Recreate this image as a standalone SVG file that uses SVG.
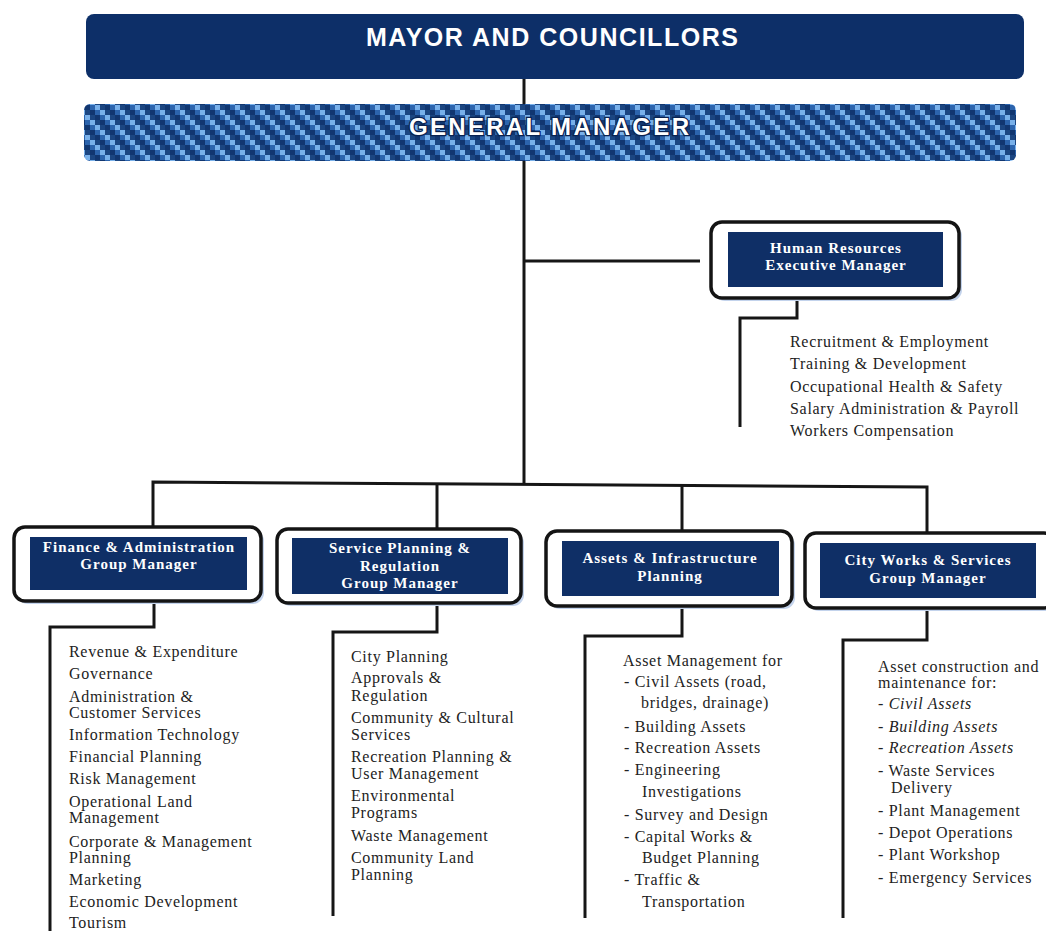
<svg xmlns="http://www.w3.org/2000/svg" width="1046" height="931" viewBox="0 0 1046 931">
<style>
.bg{fill:#ffffff}
.banner{fill:#0d2f68}
.banner-text{font-family:"Liberation Sans",Arial,sans-serif;font-weight:bold;font-size:25px;fill:#ffffff;text-anchor:middle}
.gm-text{font-family:"Liberation Sans",Arial,sans-serif;font-weight:bold;font-size:24px;fill:#ffffff;text-anchor:middle;stroke:#0a2250;stroke-width:2.5px;paint-order:stroke}
.shadow{fill:#c3d3ec}
.outer{fill:#ffffff;stroke:#141414;stroke-width:3.5px}
.inner{fill:#0f2f66}
.title{font-family:"Liberation Serif","Times New Roman",serif;font-weight:bold;font-size:15px;fill:#ffffff;text-anchor:middle;letter-spacing:1px}
.item{font-family:"Liberation Serif","Times New Roman",serif;font-size:16px;fill:#222222;letter-spacing:0.7px}
.it{font-style:italic}
.conn{fill:none;stroke:#161616;stroke-width:3px;stroke-linejoin:miter}
</style>
<defs>
<pattern id="checker" x="0" y="0" width="20" height="20" patternUnits="userSpaceOnUse">
<rect width="20" height="20" fill="#2c64ad"/>
<rect x="0" y="0" width="5" height="5" fill="#113670"/>
<rect x="10" y="0" width="5" height="5" fill="#78b0ea"/>
<rect x="5" y="5" width="5" height="5" fill="#113670"/>
<rect x="15" y="5" width="5" height="5" fill="#78b0ea"/>
<rect x="10" y="10" width="5" height="5" fill="#113670"/>
<rect x="0" y="10" width="5" height="5" fill="#78b0ea"/>
<rect x="15" y="15" width="5" height="5" fill="#113670"/>
<rect x="5" y="15" width="5" height="5" fill="#78b0ea"/>
<rect x="15" y="0" width="5" height="5" fill="#1b4682"/>
<rect x="0" y="5" width="5" height="5" fill="#1b4682"/>
<rect x="5" y="10" width="5" height="5" fill="#1b4682"/>
<rect x="10" y="15" width="5" height="5" fill="#1b4682"/>
</pattern>
</defs>
<rect class="bg" x="0" y="0" width="1046" height="931"/>

<g id="connectors">
<line class="conn" x1="524" y1="78" x2="524" y2="104"/>
<line class="conn" x1="524" y1="161" x2="524" y2="483"/>
<line class="conn" x1="524" y1="261" x2="700" y2="261"/>
<polyline class="conn" points="797,298 797,318 740,318 740,427"/>
<polyline class="conn" points="153,527 153,482 927,487 927,532"/>
<line class="conn" x1="437" y1="484.5" x2="437" y2="529"/>
<line class="conn" x1="682" y1="486" x2="682" y2="532"/>
<polyline class="conn" points="154,601 154,627 50,627 50,931"/>
<polyline class="conn" points="437,603 437,632 333,632 333,916"/>
<polyline class="conn" points="682,606 682,636 585,636 585,918"/>
<polyline class="conn" points="927,607 927,640 843,640 843,918"/>
</g>

<g id="mayor">
<rect class="banner" x="86" y="14" width="938" height="65" rx="8"/>
<text class="banner-text" x="552" y="46" textLength="372">MAYOR AND COUNCILLORS</text>
</g>

<g id="general-manager">
<rect x="84" y="104" width="932" height="57" rx="6" fill="url(#checker)"/>
<text class="gm-text" x="549" y="135" textLength="280">GENERAL MANAGER</text>
</g>

<g id="hr">
<rect class="shadow" x="714" y="225" width="248" height="76" rx="11"/>
<rect class="outer" x="711" y="222" width="248" height="76" rx="11"/>
<rect class="inner" x="728" y="232" width="215" height="55"/>
<text class="title" x="836" y="253">Human Resources</text>
<text class="title" x="836" y="270">Executive Manager</text>
</g>

<g id="hr-functions">
<text class="item" x="790" y="347">Recruitment &amp; Employment</text>
<text class="item" x="790" y="369">Training &amp; Development</text>
<text class="item" x="790" y="392">Occupational Health &amp; Safety</text>
<text class="item" x="790" y="414">Salary Administration &amp; Payroll</text>
<text class="item" x="790" y="436">Workers Compensation</text>
</g>

<g id="finance">
<rect class="shadow" x="17" y="530" width="247" height="74" rx="11"/>
<rect class="outer" x="14" y="527" width="247" height="74" rx="11"/>
<rect class="inner" x="30" y="537" width="217" height="53"/>
<text class="title" x="139" y="552">Finance &amp; Administration</text>
<text class="title" x="139" y="569">Group Manager</text>
</g>

<g id="finance-functions">
<text class="item" x="69" y="657">Revenue &amp; Expenditure</text>
<text class="item" x="69" y="679">Governance</text>
<text class="item" x="69" y="702">Administration &amp;</text>
<text class="item" x="69" y="718">Customer Services</text>
<text class="item" x="69" y="740">Information Technology</text>
<text class="item" x="69" y="762">Financial Planning</text>
<text class="item" x="69" y="784">Risk Management</text>
<text class="item" x="69" y="807">Operational Land</text>
<text class="item" x="69" y="823">Management</text>
<text class="item" x="69" y="847">Corporate &amp; Management</text>
<text class="item" x="69" y="863">Planning</text>
<text class="item" x="69" y="885">Marketing</text>
<text class="item" x="69" y="907">Economic Development</text>
<text class="item" x="69" y="928">Tourism</text>
</g>

<g id="service-planning">
<rect class="shadow" x="280" y="532" width="244" height="74" rx="11"/>
<rect class="outer" x="277" y="529" width="244" height="74" rx="11"/>
<rect class="inner" x="292" y="538" width="216" height="56"/>
<text class="title" x="400" y="553">Service Planning &amp;</text>
<text class="title" x="400" y="571">Regulation</text>
<text class="title" x="400" y="588">Group Manager</text>
</g>

<g id="service-functions">
<text class="item" x="351" y="662">City Planning</text>
<text class="item" x="351" y="683">Approvals &amp;</text>
<text class="item" x="351" y="701">Regulation</text>
<text class="item" x="351" y="723">Community &amp; Cultural</text>
<text class="item" x="351" y="740">Services</text>
<text class="item" x="351" y="762">Recreation Planning &amp;</text>
<text class="item" x="351" y="779">User Management</text>
<text class="item" x="351" y="801">Environmental</text>
<text class="item" x="351" y="818">Programs</text>
<text class="item" x="351" y="841">Waste Management</text>
<text class="item" x="351" y="863">Community Land</text>
<text class="item" x="351" y="880">Planning</text>
</g>

<g id="assets">
<rect class="shadow" x="549" y="534" width="246" height="75" rx="11"/>
<rect class="outer" x="546" y="531" width="246" height="75" rx="11"/>
<rect class="inner" x="562" y="541" width="217" height="55"/>
<text class="title" x="670" y="563">Assets &amp; Infrastructure</text>
<text class="title" x="670" y="581">Planning</text>
</g>

<g id="assets-functions">
<text class="item" x="623" y="666">Asset Management for</text>
<text class="item" x="624" y="687">- Civil Assets (road,</text>
<text class="item" x="641" y="708">bridges, drainage)</text>
<text class="item" x="624" y="732">- Building Assets</text>
<text class="item" x="624" y="753">- Recreation Assets</text>
<text class="item" x="624" y="775">- Engineering</text>
<text class="item" x="642" y="797">Investigations</text>
<text class="item" x="624" y="820">- Survey and Design</text>
<text class="item" x="624" y="842">- Capital Works &amp;</text>
<text class="item" x="642" y="863">Budget Planning</text>
<text class="item" x="624" y="885">- Traffic &amp;</text>
<text class="item" x="642" y="907">Transportation</text>
</g>

<g id="city-works">
<rect class="shadow" x="808" y="536" width="250" height="75" rx="11"/>
<rect class="outer" x="805" y="533" width="250" height="75" rx="11"/>
<rect class="inner" x="820" y="543" width="216" height="55"/>
<text class="title" x="928" y="565">City Works &amp; Services</text>
<text class="title" x="928" y="583">Group Manager</text>
</g>

<g id="city-works-functions">
<text class="item" x="878" y="672">Asset construction and</text>
<text class="item" x="878" y="688">maintenance for:</text>
<text class="item" x="878" y="709">- <tspan class="it">Civil Assets</tspan></text>
<text class="item" x="878" y="732">- <tspan class="it">Building Assets</tspan></text>
<text class="item" x="878" y="753">- <tspan class="it">Recreation Assets</tspan></text>
<text class="item" x="878" y="776">- Waste Services</text>
<text class="item" x="891" y="793">Delivery</text>
<text class="item" x="878" y="816">- Plant Management</text>
<text class="item" x="878" y="838">- Depot Operations</text>
<text class="item" x="878" y="860">- Plant Workshop</text>
<text class="item" x="878" y="883">- Emergency Services</text>
</g>
</svg>
